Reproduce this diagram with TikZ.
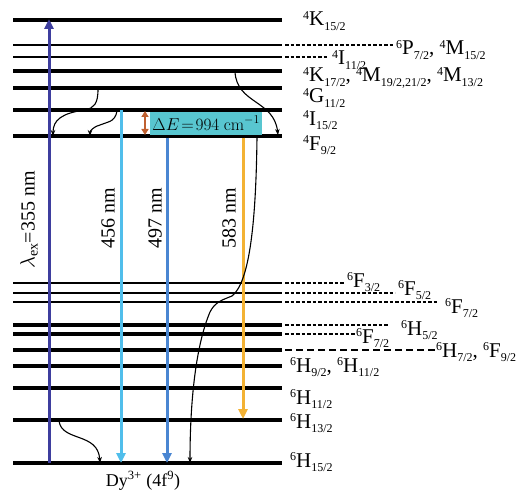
\documentclass[tikz,border=0pt]{standalone}
\usepackage[no-math]{fontspec}
\setmainfont{Liberation Serif}
\usetikzlibrary{arrows.meta}
\definecolor{cexc}{RGB}{62,62,158}
\definecolor{cbl}{RGB}{80,190,235}
\definecolor{cmb}{RGB}{74,134,210}
\definecolor{cor}{RGB}{243,178,52}
\definecolor{cbox}{RGB}{88,198,208}
\definecolor{cde}{RGB}{192,96,48}
\newcommand\lv[3]{\raisebox{6.5pt}{\fontsize{12}{12}\selectfont #1}#2\raisebox{-4.5pt}{\fontsize{12}{12}\selectfont #3}}
\begin{document}
\begin{tikzpicture}[x=1pt,y=-1pt,
  lvl/.style={line width=3.1pt},
  lvthin/.style={line width=1.8pt},
  lvthick/.style={line width=4.4pt},
  dsh/.style={line width=1.3pt, dash pattern=on 3.5pt off 2pt},
  dshlong/.style={line width=1.3pt, dash pattern=on 7pt off 4pt},
  lab/.style={anchor=base west, inner sep=0pt, font=\fontsize{21}{23}\selectfont},
  emis/.style={line width=3pt,-{Triangle[length=10pt,width=9pt]}},
  relax/.style={line width=1.1pt,-{Stealth[length=6pt,width=4.5pt]}},
  wl/.style={rotate=90, inner sep=0pt, font=\fontsize{20}{22}\selectfont}]
\useasboundingbox (0,0) rectangle (518,489);
% levels
\foreach \y in {20,88,110,136} \draw[lvl] (13,\y) -- (282,\y);
\foreach \y in {45,57,283,293,302} \draw[lvthin] (13,\y) -- (282,\y);
\draw[lvthick] (13,71) -- (282,71);
\foreach \y in {325,334,350,366,388,420} \draw[lvl] (13,\y) -- (282,\y);
\draw[line width=4.2pt] (13,463) -- (282,463);
% dashed leaders
\draw[dsh] (285,45) -- (394,45);
\draw[dsh] (285,57) -- (327,57);
\draw[dsh] (285,283) -- (344,283);
\draw[dsh] (285,293) -- (395,293);
\draw[dsh] (285,302) -- (437,302);
\draw[dsh] (285,325) -- (388,325);
\draw[dsh] (285,334) -- (355,334);
\draw[dshlong] (285,350) -- (435,350);
% labels
\node[lab] (l1) at (303,26) {\lv{4}{K}{15/2}};
\node[lab] (l2) at (396,55) {\lv{6}{P}{7/2}, \lv{4}{M}{15/2}};
\node[lab] (l3) at (332,65) {\lv{4}{I}{11/2}};
\node[lab] (l4) at (303,82) {\lv{4}{K}{17/2}, \lv{4}{M}{19/2,21/2}, \lv{4}{M}{13/2}};
\node[lab] (l5) at (303,103) {\lv{4}{G}{11/2}};
\node[lab] (l6) at (303,125) {\lv{4}{I}{15/2}};
\node[lab] (l7) at (303,150) {\lv{4}{F}{9/2}};
\node[lab] (l8) at (347,287) {\lv{6}{F}{3/2}};
\node[lab] (l9) at (398,295) {\lv{6}{F}{5/2}};
\node[lab] (l10) at (445,313) {\lv{6}{F}{7/2}};
\node[lab] (l11) at (401,335) {\lv{6}{H}{5/2}};
\node[lab] (l12) at (356,343) {\lv{6}{F}{7/2}};
\node[lab] (l13) at (436,357) {\lv{6}{H}{7/2}, \lv{6}{F}{9/2}};
\node[lab] (l14) at (290,372) {\lv{6}{H}{9/2}, \lv{6}{H}{11/2}};
\node[lab] (l15) at (290,404) {\lv{6}{H}{11/2}};
\node[lab] (l16) at (290,428) {\lv{6}{H}{13/2}};
\node[lab] (l17) at (290,467) {\lv{6}{H}{15/2}};
\node[anchor=base, inner sep=0pt, font=\fontsize{18}{20}\selectfont] (dy) at (143,486) {Dy\textsuperscript{3+} (4f\textsuperscript{9})};
% Delta E box
\node[fill=cbox, anchor=north west, minimum width=112pt, minimum height=23pt, inner sep=0pt, font=\fontsize{18}{20}\selectfont] (de) at (150,111.5) {$\Delta E\!=\!994~\mathrm{cm}^{-1}$};
\coordinate (deT) at (145,111);
\coordinate (deB) at (145,135);
\draw[cde, line width=2.5pt, {Triangle[length=6pt,width=7pt]}-{Triangle[length=6pt,width=7pt]}] (deT) -- (deB);
% excitation and emission arrows
\coordinate (ex0) at (49,463); \coordinate (ex1) at (49,19);
\draw[emis, cexc] (ex0) -- (ex1);
\coordinate (a0) at (121,110); \coordinate (a1) at (121,463);
\draw[emis, cbl] (a0) -- (a1);
\coordinate (b0) at (167,137.5); \coordinate (b1) at (167,463);
\draw[emis, cmb] (b0) -- (b1);
\coordinate (c0) at (243,137.5); \coordinate (c1) at (243,419);
\draw[emis, cor] (c0) -- (c1);
\node[wl] (wex) at (29,220) {$\lambda$\textsubscript{ex}=355 nm};
\node[wl] (w1) at (108,218) {456 nm};
\node[wl] (w2) at (155,218) {497 nm};
\node[wl] (w3) at (229,218) {583 nm};
% nonradiative relaxation curves
\coordinate (r1a) at (98,89); \coordinate (r1b) at (53,136);
\draw[relax] (r1a) .. controls (98,104) and (94,108) .. (85,110) .. controls (62,113) and (53,120) .. (r1b);
\coordinate (r2a) at (117,111); \coordinate (r2b) at (90,136);
\draw[relax] (r2a) .. controls (115,123) and (106,122) .. (100,125) .. controls (93,127) and (90,131) .. (r2b);
\coordinate (r3a) at (235,72); \coordinate (r3b) at (278,135);
\draw[relax] (r3a) .. controls (237,104) and (274,100) .. (r3b);
\coordinate (r4a) at (257,137); \coordinate (r4b) at (190,463);
\draw[relax] (r4a) .. controls (256,220) and (250,282) .. (232,296) .. controls (222,300) and (215,302) .. (210,312) .. controls (196,345) and (190,400) .. (r4b);
\coordinate (r5a) at (59,421); \coordinate (r5b) at (100,463);
\draw[relax] (r5a) .. controls (62,442) and (98,432) .. (r5b);
\end{tikzpicture}
\end{document}
